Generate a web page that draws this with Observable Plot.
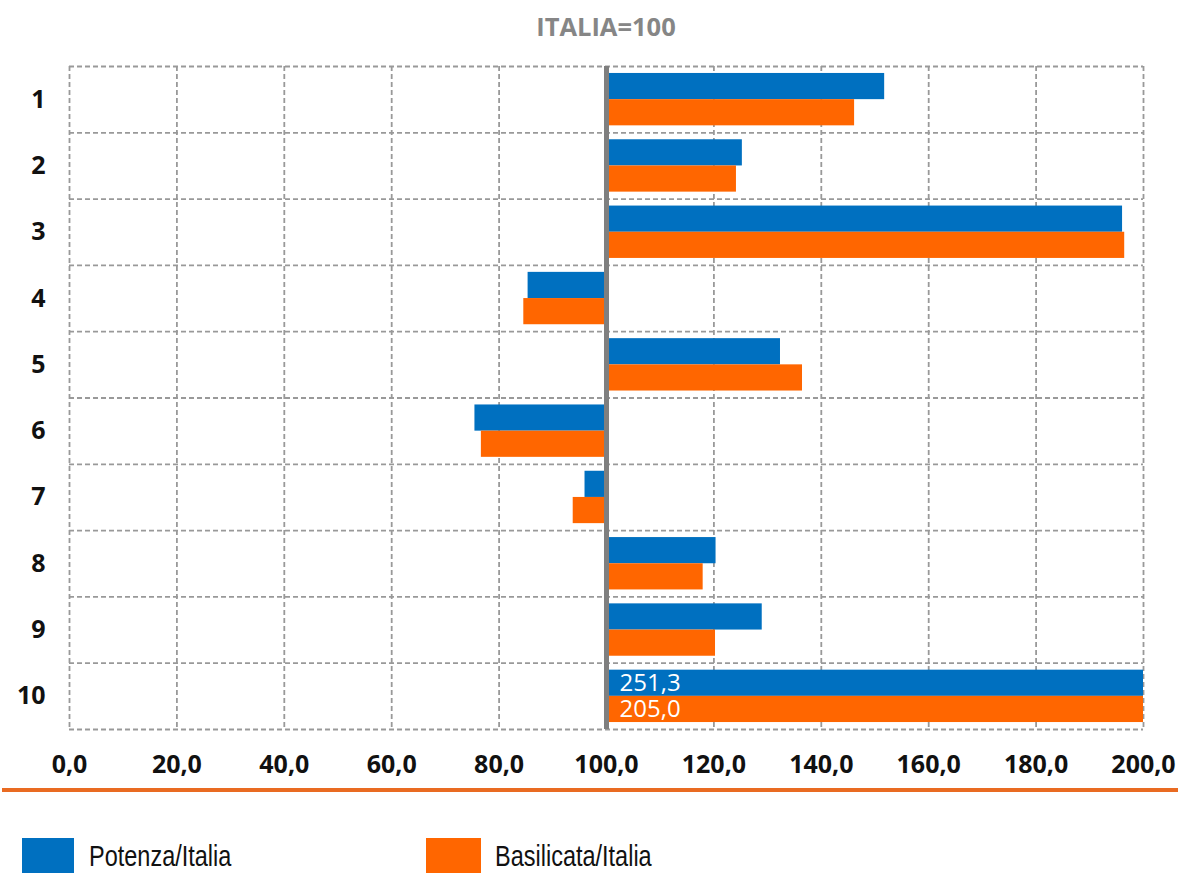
<!DOCTYPE html>
<html>
<head>
<meta charset="utf-8">
<script src="https://cdn.jsdelivr.net/npm/d3@7"></script>
<script src="https://cdn.jsdelivr.net/npm/@observablehq/plot@0.6"></script>
<style>
  html, body { margin: 0; padding: 0; background: #fff; }
  #wrap { position: relative; width: 1178px; height: 873px; overflow: hidden; font-family: "Open Sans", sans-serif; }
  #title { position: absolute; left: 69px; width: 1074px; top: 0; height: 50px; line-height: 53px; text-align: center;
           font-family: "Open Sans", sans-serif; font-weight: 700; font-size: 25.5px; color: #868686; }
  #chart { position: absolute; left: 0; top: 50px; }
  #rule { position: absolute; left: 2px; right: 0; top: 788px; height: 4px; background: #E96B22; }
  .sw { position: absolute; top: 838px; height: 36px; }
  .lt { position: absolute; top: 836px; font-family: "Liberation Sans", Arial, sans-serif;
        font-size: 29px; line-height: 40px; color: #111; transform: scaleX(0.81); transform-origin: 0 50%; white-space: nowrap; }
</style>
</head>
<body>
<div id="wrap">
  <div id="title">ITALIA=100</div>
  <div id="chart"></div>
  <div id="rule"></div>
  <div class="sw" style="left:22px;width:52px;background:#0070C0"></div>
  <div class="lt" style="left:89px">Potenza/Italia</div>
  <div class="sw" style="left:426px;width:55px;background:#FF6600"></div>
  <div class="lt" style="left:495px">Basilicata/Italia</div>
</div>
<script>
const categories = [1, 2, 3, 4, 5, 6, 7, 8, 9, 10];
const potenza    = [151.8, 125.3, 196.1, 85.4, 132.4, 75.5, 96.0, 120.4, 129.0, 251.3];
const basilicata = [146.2, 124.2, 196.5, 84.6, 136.5, 76.7, 93.8, 118.0, 120.3, 205.0];
const xTicks = [0, 20, 40, 60, 80, 100, 120, 140, 160, 180, 200];

const rows = categories.map((c, i) => ({cat: c, potenza: potenza[i], basilicata: basilicata[i]}));
const bounds = [0.5].concat(categories.map(c => c + 0.5));
const fmt = v => v.toFixed(1).replace(".", ",");
const half = 0.395;

const chart = Plot.plot({
  width: 1178,
  height: 735,
  marginTop: 16,
  marginBottom: 56,
  marginLeft: 69,
  marginRight: 35,
  style: {fontFamily: "Open Sans, sans-serif", fontSize: "25px", fontWeight: "700", color: "#111", background: "#fff"},
  x: {domain: [0, 200], clamp: true, ticks: xTicks, tickFormat: fmt, tickSize: 0, tickPadding: 26, label: null},
  y: {domain: [0.5, 10.5], reverse: true, ticks: categories, tickFormat: d => String(d), tickSize: 0, tickPadding: 24, label: null},
  marks: [
    Plot.ruleX(xTicks, {stroke: "#999", strokeWidth: 1.8, strokeDasharray: "5,3"}),
    Plot.ruleY(bounds, {stroke: "#999", strokeWidth: 1.8, strokeDasharray: "5,3"}),
    Plot.rectX(rows, {x1: 100, x2: "potenza", y1: d => d.cat - half, y2: d => d.cat, fill: "#0070C0"}),
    Plot.rectX(rows, {x1: 100, x2: "basilicata", y1: d => d.cat, y2: d => d.cat + half, fill: "#FF6600"}),
    Plot.ruleX([100], {stroke: "#7f7f7f", strokeWidth: 5}),
    Plot.text(rows.filter(d => d.potenza > 200), {x: 100, y: d => d.cat - half / 2, text: d => fmt(d.potenza), dx: 13, textAnchor: "start", fill: "white", fontSize: 24, fontWeight: "400"}),
    Plot.text(rows.filter(d => d.basilicata > 200), {x: 100, y: d => d.cat + half / 2, text: d => fmt(d.basilicata), dx: 13, textAnchor: "start", fill: "white", fontSize: 24, fontWeight: "400"})
  ]
});
document.getElementById("chart").appendChild(chart);
</script>
</body>
</html>
